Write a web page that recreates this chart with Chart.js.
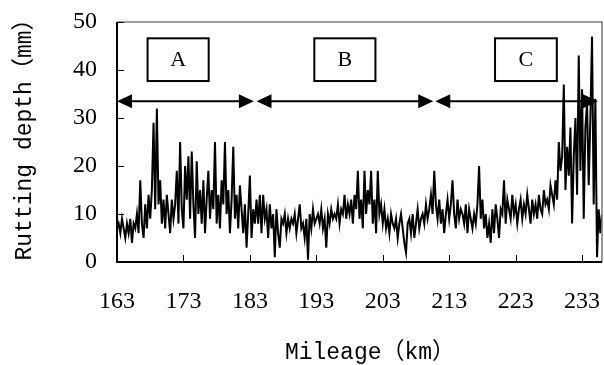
<!DOCTYPE html>
<html>
<head>
<meta charset="utf-8">
<script src="https://cdn.jsdelivr.net/npm/chart.js@4.4.0/dist/chart.umd.min.js"></script>
<style>
  html, body { margin: 0; padding: 0; background: #fff; }
</style>
</head>
<body>
<canvas id="rut" width="604" height="365"></canvas>
<script>
// mileage sampling (km)
const mileageStart = 163;
const mileageStep = 0.25;

// rutting depth (mm), one value every 0.25 km from 163 km
const rutDepth = [
  7, 8, 6, 9,   7, 5, 8, 6,   9, 4, 8, 7,   10, 6, 17, 8,   5, 12, 7, 14,
  9, 15, 29, 11,   32, 12, 17, 8,   13, 7, 14, 10,   6, 13, 9, 12,   19, 8, 25, 11,
  7, 20, 13, 22,   9, 23, 12, 5,   21, 10, 15, 8,   17, 6, 13, 19,   9, 15, 11, 25,
  8, 14, 7, 17,   12, 25, 10, 15,   6, 13, 24, 9,   14, 7, 16, 11,   6, 12, 3, 10,
  18, 5, 11, 8,   13, 8, 14, 6,   14, 9, 11, 5,   12, 7, 10, 1,   11, 6, 3, 9,
  8, 10, 6, 9,   7, 9, 8, 10,   6, 9, 12, 7,   8, 5, 9, 0.5,   10, 7, 11, 8,
  9, 10, 8, 11,   7, 9, 3, 10,   8, 11, 9, 10,   9, 12, 8, 11,   10, 14, 9, 12,
  10, 13, 8, 14,   11, 19, 9, 13,   7, 19, 10, 15,   12, 19, 8, 13,   6, 19, 10, 12,
  8, 11, 7, 9,   6, 10, 8, 7,   9, 5, 8, 10,   7, 4, 2, 8,   9, 6, 10, 5,
  8, 11, 7, 9,   10, 8, 12, 9,   11, 14, 10, 19,   12, 9, 13, 8,   11, 6, 10, 13,
  9, 12, 17, 10,   7, 13, 9, 11,   10, 8, 12, 6,   11, 9, 7, 10,   8, 12, 20, 9,
  13, 7, 10, 5,   8, 4, 11, 6,   12, 9, 5, 11,   10, 17, 8, 13,   11, 9, 14, 10,
  12, 8, 11, 13,   9, 12, 10, 14,   11, 8, 13, 10,   12, 9, 14, 11,   10, 15, 12, 13,
  11, 16, 14, 12,   17, 13, 25, 19,   22, 37, 15, 24,   18, 28, 8, 22,   30, 14, 43, 19,
  36, 9, 28, 33,   16, 30, 47, 12,   34, 1, 11, 6,   10
];

const xTickValues = [163, 173, 183, 193, 203, 213, 223, 233];
const yTickValues = [0, 10, 20, 30, 40, 50];

// sections along the road
const sectionLabels = ["A", "B", "C"];
const sectionFrom = [163, 184, 210.9];
const sectionTo = [183.6, 210.6, 235.4];
const labelBoxFrom = [167.6, 192.7, 219.9];
const labelBoxTo = [176.8, 201.9, 229.2];
const arrowLevel = 33.5;
const labelBoxTop = 46.6;
const labelBoxBottom = 37.7;

const points = rutDepth.map((v, i) => ({ x: mileageStart + i * mileageStep, y: v }));

const monoFont = "'Liberation Mono', 'Noto Sans CJK SC', monospace";
const serifFont = "'Liberation Serif', 'DejaVu Serif', serif";

function arrowHead(ctx, tipX, y, dir) {
  ctx.beginPath();
  ctx.moveTo(tipX, y);
  ctx.lineTo(tipX - dir * 15, y - 7);
  ctx.lineTo(tipX - dir * 15, y + 7);
  ctx.closePath();
  ctx.fill();
}

const decorations = {
  id: "decorations",
  afterDatasetsDraw(chart) {
    const { ctx, chartArea: a, scales: { x, y } } = chart;
    ctx.save();

    // frame: dark left/bottom, grey top/right
    ctx.strokeStyle = "#7a7a7a";
    ctx.lineWidth = 1.5;
    ctx.beginPath();
    ctx.moveTo(a.left, a.top);
    ctx.lineTo(a.right, a.top);
    ctx.lineTo(a.right, a.bottom);
    ctx.stroke();
    ctx.strokeStyle = "#000";
    ctx.lineWidth = 2;
    ctx.beginPath();
    ctx.moveTo(a.left, a.top);
    ctx.lineTo(a.left, a.bottom);
    ctx.lineTo(a.right, a.bottom);
    ctx.stroke();

    // inward tick marks
    ctx.lineWidth = 1;
    ctx.beginPath();
    xTickValues.forEach((v) => {
      const px = Math.round(x.getPixelForValue(v)) + 0.5;
      ctx.moveTo(px, a.bottom);
      ctx.lineTo(px, a.bottom - 7);
    });
    yTickValues.forEach((v) => {
      const py = Math.round(y.getPixelForValue(v)) + 0.5;
      ctx.moveTo(a.left, py);
      ctx.lineTo(a.left + 7, py);
    });
    ctx.stroke();

    // section arrows and label boxes
    const ay = y.getPixelForValue(arrowLevel);
    ctx.fillStyle = "#000";
    ctx.lineWidth = 2;
    sectionLabels.forEach((lab, i) => {
      const x0 = x.getPixelForValue(sectionFrom[i]);
      const x1 = x.getPixelForValue(sectionTo[i]);
      ctx.beginPath();
      ctx.moveTo(x0 + 8, ay);
      ctx.lineTo(x1 - 8, ay);
      ctx.stroke();
      arrowHead(ctx, x0, ay, -1);
      arrowHead(ctx, x1, ay, 1);

      const bx0 = x.getPixelForValue(labelBoxFrom[i]);
      const bx1 = x.getPixelForValue(labelBoxTo[i]);
      const by0 = y.getPixelForValue(labelBoxTop);
      const by1 = y.getPixelForValue(labelBoxBottom);
      ctx.fillStyle = "#fff";
      ctx.fillRect(bx0, by0, bx1 - bx0, by1 - by0);
      ctx.strokeRect(bx0, by0, bx1 - bx0, by1 - by0);
      ctx.fillStyle = "#000";
      ctx.font = "22px " + serifFont;
      ctx.textAlign = "center";
      ctx.textBaseline = "middle";
      ctx.fillText(lab, (bx0 + bx1) / 2, (by0 + by1) / 2 + 1);
    });

    // axis titles
    ctx.font = "23px " + monoFont;
    ctx.textAlign = "center";
    ctx.textBaseline = "middle";
    ctx.fillText("Mileage（km）", 370, 353);
    ctx.translate(25, 134);
    ctx.rotate(-Math.PI / 2);
    ctx.fillText("Rutting depth（mm）", 0, 0);

    ctx.restore();
  }
};

new Chart(document.getElementById("rut"), {
  type: "line",
  data: {
    datasets: [{
      data: points,
      borderColor: "#000",
      borderWidth: 2,
      pointRadius: 0,
      tension: 0,
    }],
  },
  options: {
    responsive: false,
    animation: false,
    layout: { padding: { top: 22, right: 2, left: 0, bottom: 0 } },
    plugins: {
      legend: { display: false },
      tooltip: { enabled: false },
    },
    scales: {
      x: {
        type: "linear",
        min: 163,
        max: 236,
        afterBuildTicks: (scale) => {
          scale.ticks = xTickValues.map((v) => ({ value: v }));
        },
        afterFit: (scale) => {
          scale.height = 103;
          scale.paddingLeft = 0;
          scale.paddingRight = 0;
        },
        grid: { display: false, drawTicks: false },
        border: { display: false },
        ticks: {
          padding: 25,
          color: "#000",
          maxRotation: 0,
          autoSkip: false,
          font: { family: serifFont, size: 24 },
        },
      },
      y: {
        min: 0,
        max: 50,
        afterBuildTicks: (scale) => {
          scale.ticks = yTickValues.map((v) => ({ value: v }));
        },
        afterFit: (scale) => {
          scale.width = 117;
          scale.paddingTop = 0;
          scale.paddingBottom = 0;
        },
        grid: { display: false, drawTicks: false },
        border: { display: false },
        ticks: {
          padding: 20,
          color: "#000",
          font: { family: serifFont, size: 24 },
        },
      },
    },
  },
  plugins: [decorations],
});
</script>
</body>
</html>
